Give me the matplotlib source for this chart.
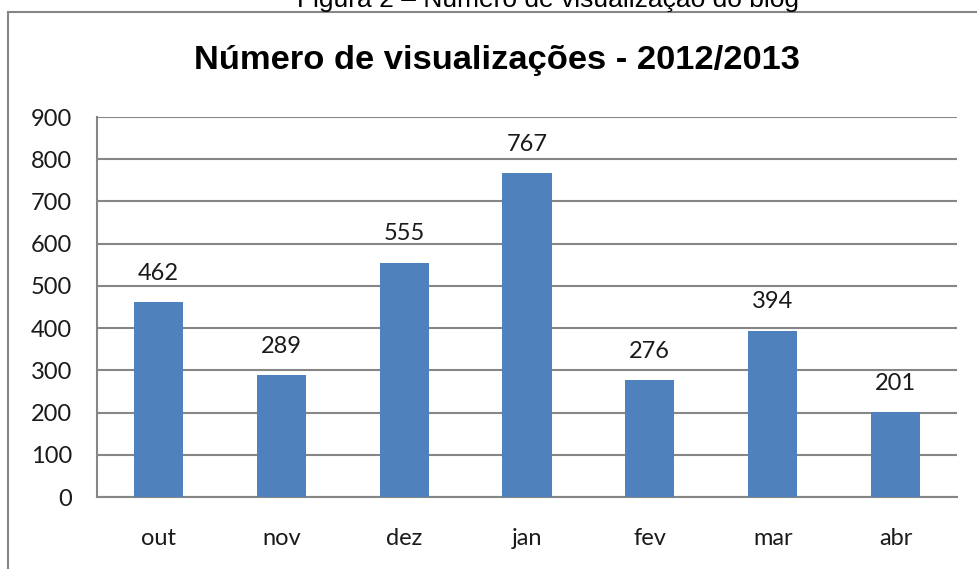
import matplotlib
matplotlib.use("Agg")
from matplotlib import pyplot as plt
from matplotlib.patches import Rectangle

meses = ["out", "nov", "dez", "jan", "fev", "mar", "abr"]
visualizacoes = [462, 289, 555, 767, 276, 394, 201]
y_ticks = [0, 100, 200, 300, 400, 500, 600, 700, 800, 900]

titulo = "Número de visualizações - 2012/2013"
legenda_figura = "Figura 2 – Número de visualização do blog"

cor_barra = "#4F81BD"
cor_grade = "#868686"

fig = plt.figure(figsize=(9.78, 5.69), dpi=100)
ax = fig.add_axes([97 / 978, 1 - 497 / 569, 860 / 978, 380 / 569])

x = list(range(len(meses)))
ax.bar(x, visualizacoes, width=0.4, color=cor_barra, zorder=3)

for xi, v in zip(x, visualizacoes):
    ax.annotate(str(v), (xi, v), xytext=(0, 16), textcoords="offset points",
                ha="center", va="baseline", fontsize=17, family="Lato",
                color="#1a1a1a")

ax.set_xlim(-0.5, len(meses) - 0.5)
ax.set_ylim(0, 900)
ax.set_yticks(y_ticks)
ax.set_xticks(x)
ax.set_xticklabels(meses)
ax.grid(axis="y", color=cor_grade, lw=1.5, zorder=0)
ax.tick_params(axis="both", length=0, labelsize=17, colors="#1a1a1a")
ax.tick_params(axis="y", pad=18)
ax.tick_params(axis="x", pad=22)
for lab in ax.get_xticklabels() + ax.get_yticklabels():
    lab.set_family("Lato")

for s in ["top", "right"]:
    ax.spines[s].set_visible(False)
for s in ["left", "bottom"]:
    ax.spines[s].set_color(cor_grade)
    ax.spines[s].set_linewidth(1.5)

fig.text(497 / 978, 1 - 69 / 569, titulo, ha="center", va="baseline",
         fontsize=24.8, fontweight="bold", family="Liberation Sans")

# legenda da figura, cortada no topo como na imagem original
fig.text(548 / 978, 1 - 7 / 569, legenda_figura, ha="center", va="baseline",
         fontsize=19, family="Liberation Sans")

frame = Rectangle((8 / 978, -0.2), 1.2, 1.2 - 12 / 569, transform=fig.transFigure,
                  fill=False, edgecolor=cor_grade, lw=1.5)
fig.patches.append(frame)

fig.savefig("out.png", dpi=100)
